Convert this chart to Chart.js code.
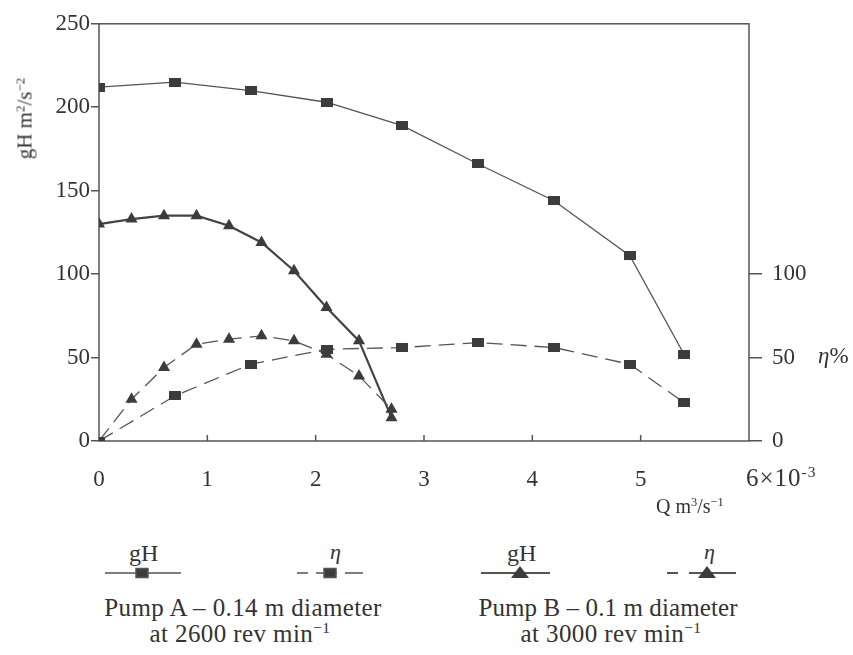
<!DOCTYPE html>
<html>
<head>
<meta charset="utf-8">
<script src="https://cdn.jsdelivr.net/npm/chart.js@4"></script>
<style>
  body { margin: 0; background: #fff; }
  #wrap { position: relative; width: 853px; height: 655px; font-family: "Liberation Serif", serif; color: #333; }
  #pumpChart { position: absolute; left: 0; top: 0; }
  .t { position: absolute; white-space: nowrap; line-height: 1; }
  .c { text-align: center; }
  sup { font-size: 0.62em; vertical-align: 0.55em; line-height: 0; }
</style>
</head>
<body>
<div id="wrap">
  <canvas id="pumpChart" width="853" height="520"></canvas>

  <!-- axis titles -->
  <div class="t c" style="left:-40px; top:108px; width:130px; height:21px; font-size:21px; transform:rotate(-90deg);">gH m<sup>2</sup>/s<sup>&minus;2</sup></div>
  <div class="t" style="left:746px; top:465px; font-size:25px; letter-spacing:1px;">6&times;10<sup>-3</sup></div>
  <div class="t" style="left:656px; top:496px; font-size:20px;">Q m<sup>3</sup>/s<sup>&minus;1</sup></div>
  <div class="t" style="left:818px; top:344px; font-size:23px;"><i>&eta;</i>%</div>

  <!-- legend -->
  <svg style="position:absolute; left:0; top:560px;" width="853" height="30">
    <g stroke="#555" stroke-width="1.5" fill="#3c3c3c">
      <line x1="105" y1="13" x2="181" y2="13"/>
      <rect x="136" y="8.5" width="12" height="9"/>
      <line x1="297" y1="13" x2="308" y2="13"/>
      <line x1="316" y1="13" x2="337" y2="13"/>
      <line x1="345" y1="13" x2="363" y2="13"/>
      <rect x="324" y="8.5" width="12" height="9"/>
      <line x1="481" y1="13" x2="550" y2="13" stroke-width="2"/>
      <polygon points="520,6 529,18 511,18" stroke="none"/>
      <line x1="667" y1="13" x2="678" y2="13" stroke-width="2"/>
      <line x1="689" y1="13" x2="736" y2="13" stroke-width="2"/>
      <polygon points="707,6 716,18 698,18" stroke="none"/>
    </g>
  </svg>
  <div class="t" style="left:129px; top:541px; font-size:24px;">gH</div>
  <div class="t" style="left:330px; top:541px; font-size:22px;"><i>&eta;</i></div>
  <div class="t" style="left:507px; top:541px; font-size:24px;">gH</div>
  <div class="t" style="left:704px; top:541px; font-size:22px;"><i>&eta;</i></div>

  <div class="t c" style="left:93px; width:300px; top:595px; font-size:25px; letter-spacing:0.4px;">Pump A &ndash; 0.14 m diameter</div>
  <div class="t c" style="left:90px; width:300px; top:621px; font-size:25px; letter-spacing:0.4px;">at 2600 rev min<sup>&minus;1</sup></div>
  <div class="t c" style="left:458px; width:300px; top:595px; font-size:25px; letter-spacing:0.1px;">Pump B &ndash; 0.1 m diameter</div>
  <div class="t c" style="left:461px; width:300px; top:621px; font-size:25px; letter-spacing:0.4px;">at 3000 rev min<sup>&minus;1</sup></div>
</div>

<script>
// flow rate Q (x 10^-3 m3/s)
const pumpA_Q = [0, 0.7, 1.4, 2.1, 2.8, 3.5, 4.2, 4.9, 5.4];
const pumpA_gH = [212, 215, 210, 203, 189, 166, 144, 111, 52];
const pumpA_eta = [0, 27, 46, 55, 56, 59, 56, 46, 23];

const pumpB_Q = [0, 0.3, 0.6, 0.9, 1.2, 1.5, 1.8, 2.1, 2.4, 2.7];
const pumpB_gH = [130, 133, 135, 135, 129, 119, 102, 80, 60, 14];
const pumpB_eta = [0, 25, 44, 58, 61, 63, 60, 52, 39, 19];

const qTicks = [0, 1, 2, 3, 4, 5, 6];
const gHTicks = [0, 50, 100, 150, 200, 250];
const etaTicks = [0, 50, 100];

const ink = '#3c3c3c';
const lineInk = '#555';
const font = { family: '"Liberation Serif", serif', size: 23 };

// slightly flat square marker like the printed one
const sq = document.createElement('canvas');
sq.width = 12; sq.height = 9;
const sctx = sq.getContext('2d');
sctx.fillStyle = ink;
sctx.fillRect(0, 0, 12, 9);

function pts(xs, ys) {
    return xs.map((x, i) => ({ x: x, y: ys[i] }));
}

// box around the plot and the small inward ticks on the Q axis
const framePlugin = {
    id: 'frame',
    beforeDatasetsDraw(chart) {
        const { ctx, chartArea: a, scales } = chart;
        ctx.save();
        ctx.strokeStyle = lineInk;
        ctx.lineWidth = 1.5;
        ctx.strokeRect(a.left, a.top, a.right - a.left, a.bottom - a.top);
        ctx.beginPath();
        qTicks.slice(1, -1).forEach(v => {
            const x = scales.x.getPixelForValue(v);
            ctx.moveTo(x, a.bottom);
            ctx.lineTo(x, a.bottom - 6);
        });
        ctx.stroke();
        ctx.restore();
    }
};

new Chart(document.getElementById('pumpChart').getContext('2d'), {
    type: 'scatter',
    data: {
        datasets: [
            {
                label: 'Pump A gH',
                data: pts(pumpA_Q, pumpA_gH),
                showLine: true,
                borderColor: lineInk,
                borderWidth: 1.3,
                pointStyle: sq,
                backgroundColor: ink
            },
            {
                label: 'Pump A eta',
                data: pts(pumpA_Q, pumpA_eta),
                showLine: true,
                borderColor: lineInk,
                borderWidth: 1.3,
                borderDash: [16, 8],
                pointStyle: sq,
                backgroundColor: ink
            },
            {
                label: 'Pump B eta',
                data: pts(pumpB_Q, pumpB_eta),
                showLine: true,
                borderColor: lineInk,
                borderWidth: 1.3,
                borderDash: [16, 8],
                pointStyle: 'triangle',
                pointRadius: ctx => ctx.dataIndex === 0 ? 0 : 7,
                pointBorderWidth: 0,
                backgroundColor: ink
            },
            {
                label: 'Pump B gH',
                data: pts(pumpB_Q, pumpB_gH),
                showLine: true,
                borderColor: '#444',
                borderWidth: 2.2,
                pointStyle: 'triangle',
                pointRadius: 7,
                pointBorderWidth: 0,
                backgroundColor: ink
            }
        ]
    },
    options: {
        responsive: false,
        animation: false,
        layout: { padding: { top: 19, left: 0, right: 0, bottom: 0 } },
        plugins: { legend: { display: false }, tooltip: { enabled: false } },
        scales: {
            x: {
                type: 'linear',
                min: 0,
                max: 6,
                afterBuildTicks: s => { s.ticks = qTicks.map(v => ({ value: v })); },
                afterFit: s => { s.height = 79; },
                border: { display: false },
                grid: { display: false },
                ticks: {
                    font: font,
                    color: '#333',
                    padding: 17,
                    maxRotation: 0,
                    callback: v => v === 6 ? '' : v
                }
            },
            y: {
                position: 'left',
                min: 0,
                max: 250,
                afterBuildTicks: s => { s.ticks = gHTicks.map(v => ({ value: v })); },
                afterFit: s => { s.width = 99; },
                border: { display: false },
                grid: { drawOnChartArea: false, tickLength: 8, color: lineInk, lineWidth: 1.5 },
                ticks: { font: font, color: '#333', padding: 1 }
            },
            y2: {
                position: 'right',
                min: 0,
                max: 250,
                afterBuildTicks: s => { s.ticks = etaTicks.map(v => ({ value: v })); },
                afterFit: s => { s.width = 104; },
                border: { display: false },
                grid: { drawOnChartArea: false, tickLength: 13, color: lineInk, lineWidth: 1.5 },
                ticks: { font: font, color: '#333', padding: 10 }
            }
        }
    },
    plugins: [framePlugin]
});
</script>
</body>
</html>
